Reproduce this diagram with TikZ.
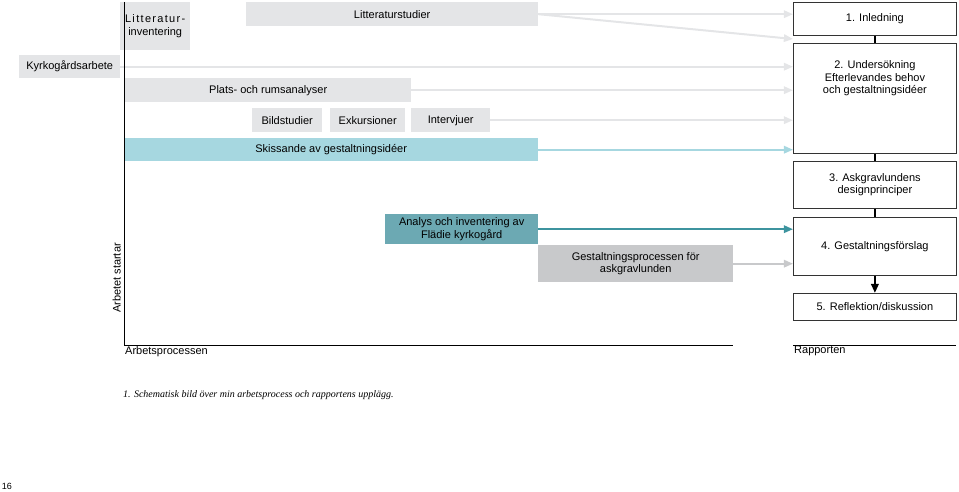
\documentclass[tikz,border=0pt]{standalone}
\usepackage{fontspec}
\setmainfont{Liberation Sans}
\newfontfamily\capfont{Liberation Serif}
\usetikzlibrary{arrows.meta,positioning}
\definecolor{lgray}{HTML}{E4E5E7}
\definecolor{mgray}{HTML}{C8C9CB}
\definecolor{lblue}{HTML}{A6D7E0}
\definecolor{tealbox}{HTML}{6CA9B3}
\definecolor{tealdk}{HTML}{3D949F}
\tikzset{>={Triangle[width=2.6mm,length=3.2mm]}}

\begin{document}
\begin{tikzpicture}[x=1pt,y=-1pt,font=\fontsize{11}{12.5}\selectfont]
  \tikzstyle{pbox} = [fill=lgray, inner sep=0pt, anchor=north west, align=center]
  \tikzstyle{rbox} = [draw=black!80, line width=0.8pt, inner sep=0pt, anchor=north west, align=center]
  \tikzstyle{feed} = [->, line width=2pt, draw=lgray]
  \useasboundingbox (0,0) rectangle (959,492);

  % arbetsprocessen
  \node[pbox, minimum width=70, minimum height=48] (linv) at (120,2) {\addfontfeature{LetterSpace=12}Litteratur-\\inventering};
  \node[pbox, minimum width=292, minimum height=24] (lstud) at (246,2) {Litteraturstudier};
  \node[pbox, minimum width=101, minimum height=23] (kyrk) at (19,55) {Kyrkogårdsarbete};
  \node[pbox, minimum width=286, minimum height=24] (plats) at (125,78) {Plats- och rumsanalyser};
  \node[pbox, minimum width=70, minimum height=24] (bild) at (252,108) {Bildstudier};
  \node[pbox, minimum width=75, minimum height=24] (exk) at (330,108) {Exkursioner};
  \node[pbox, minimum width=79, minimum height=24] (intv) at (411,108) {Intervjuer};
  \node[pbox, fill=lblue, minimum width=414, minimum height=23] (skiss) at (124,138) {Skissande av gestaltningsidéer};
  \node[pbox, fill=tealbox, minimum width=153, minimum height=30] (analys) at (385,214) {Analys och inventering av\\Flädie kyrkogård};
  \node[pbox, fill=mgray, minimum width=195, minimum height=37] (gest) at (538,245) {Gestaltningsprocessen för\\askgravlunden};

  % rapporten
  \node[rbox, minimum width=163, minimum height=33] (r1) at (793,2) {1. Inledning};
  \node[rbox, minimum width=163, minimum height=110] (r2) at (793,43) {2. Undersökning\\Efterlevandes behov\\och gestaltningsidéer\\[30pt]};
  \node[rbox, minimum width=163, minimum height=47] (r3) at (793,161) {3. Askgravlundens\\designprinciper};
  \node[rbox, minimum width=163, minimum height=58] (r4) at (793,217) {4. Gestaltningsförslag};
  \node[rbox, minimum width=163, minimum height=27] (r5) at (793,293) {5. Reflektion/diskussion};
  \draw[line width=2.5pt] (r1) -- (r2);
  \draw[line width=2.5pt] (r2) -- (r3);
  \draw[line width=2.5pt] (r3) -- (r4);
  \draw[->, line width=2.5pt] (r4) -- (r5);

  % pilar
  \draw[feed] (lstud.east) -- (r1.west |- lstud.east);
  \draw[feed] (lstud.east) -- ([yshift=4]r2.north west);
  \draw[feed] (kyrk.east) -- (r2.west |- kyrk.east);
  \draw[feed] (plats.east) -- (r2.west |- plats.east);
  \draw[feed] (intv.east) -- (r2.west |- intv.east);
  \draw[feed, draw=lblue] (skiss.east) -- (r2.west |- skiss.east);
  \draw[feed, draw=tealdk] (analys.east) -- (r4.west |- analys.east);
  \draw[feed, draw=mgray] (gest.east) -- (r4.west |- gest.east);

  % axlar
  \coordinate (o) at (124,345);
  \coordinate (top) at (124,2);
  \coordinate (xend) at (733,345);
  \draw[line width=0.6pt] (top) -- (o) -- (xend);
  \draw[line width=0.6pt] (793,345) coordinate (rs) -- (956,345) coordinate (re);
  \node[anchor=north west, inner sep=1pt] (ap) at (o) {Arbetsprocessen};
  \node[anchor=north west, inner sep=1pt] (rp) at (rs) {Rapporten};
  \node[rotate=90, anchor=south, inner sep=1pt] (start) at (122,278) {Arbetet startar};

  \node[anchor=west, inner sep=0pt, font=\capfont\itshape\fontsize{10}{12}\selectfont] (cap) at (123,395) {1. Schematisk bild över min arbetsprocess och rapportens upplägg.};
  \node[inner sep=0pt, font=\fontsize{9}{10}\selectfont] (pg) at (7,486) {16};
\end{tikzpicture}
\end{document}
